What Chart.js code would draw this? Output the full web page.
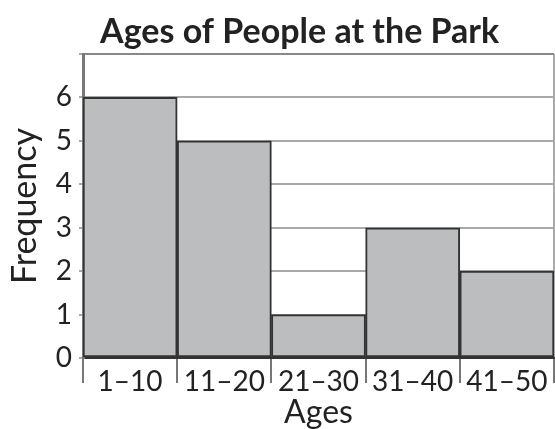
<!DOCTYPE html>
<html>
<head>
<meta charset="utf-8">
<script src="https://cdn.jsdelivr.net/npm/chart.js@4"></script>
<style>
  html, body { margin: 0; padding: 0; background: #fff; }
  #c { display: block; }
</style>
</head>
<body>
<canvas id="c" width="555" height="429"></canvas>
<script>
// data
const ageGroups = ['1–10', '11–20', '21–30', '31–40', '41–50'];
const frequency = [6, 5, 1, 3, 2];
const yTicks = [0, 1, 2, 3, 4, 5, 6];
const chartTitle = 'Ages of People at the Park';

// title drawn by hand so it can sit a bit right of the canvas centre
const titlePlugin = {
  id: 'customTitle',
  afterDraw(chart) {
    const c = chart.ctx;
    const a = chart.chartArea;
    c.save();
    c.font = 'bold 34px Lato';
    c.fillStyle = '#222';
    c.textAlign = 'center';
    c.textBaseline = 'middle';
    c.fillText(chartTitle, a.left + a.width * 0.46, 32);
    c.restore();
  }
};

new Chart(document.getElementById('c').getContext('2d'), {
  type: 'bar',
  data: {
    labels: ageGroups,
    datasets: [{
      data: frequency,
      backgroundColor: '#bcbdbf',
      borderColor: '#333',
      borderWidth: 2,
      borderSkipped: false,
      barPercentage: 1,
      categoryPercentage: 1
    }]
  },
  options: {
    responsive: false,
    animation: false,
    layout: { padding: { top: 54, right: 1, left: 0, bottom: 0 } },
    plugins: {
      legend: { display: false },
      title: { display: false },
      tooltip: { enabled: false }
    },
    scales: {
      x: {
        offset: true,
        afterFit(scale) { scale.height = 71; },
        border: { color: '#333', width: 2 },
        grid: {
          drawOnChartArea: true,
          color: (ctx) => ctx.type === 'scale' ? '#aaa' : 'rgba(0,0,0,0)',
          tickColor: '#777',
          lineWidth: 2,
          tickLength: 25
        },
        ticks: {
          color: '#222',
          font: { family: 'Lato', size: 28 },
          padding: -18,
          maxRotation: 0
        },
        title: {
          display: true,
          text: 'Ages',
          color: '#222',
          font: { family: 'Lato', size: 32, lineHeight: 1.05 },
          padding: { top: 0, bottom: 0 }
        }
      },
      y: {
        min: 0,
        max: 7,
        afterFit(scale) { scale.width = 83; },
        afterBuildTicks(scale) {
          scale.ticks = yTicks.concat([7]).map(v => ({ value: v }));
        },
        border: { color: '#777', width: 3 },
        grid: {
          color: (ctx) => ctx.tick && ctx.tick.value === 7 ? '#888' : '#a8a8a8',
          lineWidth: 2,
          tickColor: '#aaa',
          tickLength: 4
        },
        ticks: {
          color: '#222',
          font: { family: 'Lato', size: 28 },
          padding: 7,
          callback: (v) => yTicks.includes(v) ? String(v) : ''
        },
        title: {
          display: true,
          text: 'Frequency',
          color: '#222',
          font: { family: 'Lato', size: 34, lineHeight: 1.1 },
          padding: { top: 6, bottom: 0 }
        }
      }
    }
  },
  plugins: [titlePlugin]
});
</script>
</body>
</html>
